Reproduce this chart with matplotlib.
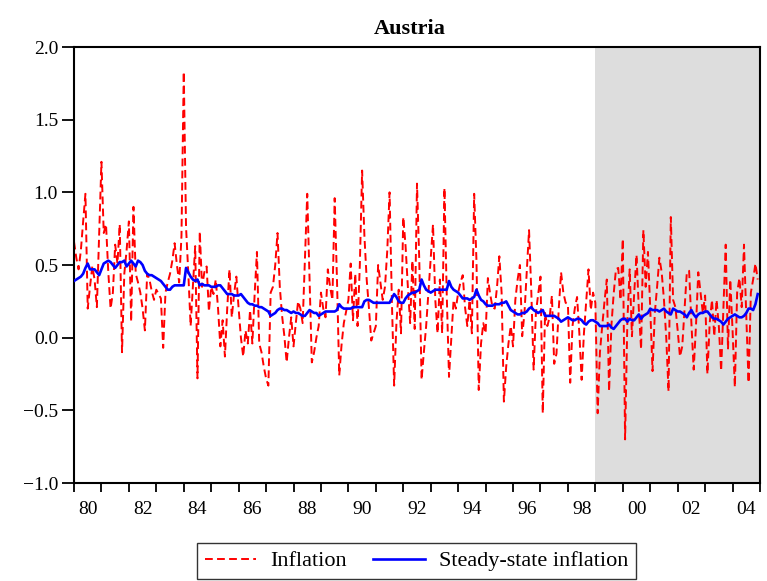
import matplotlib
matplotlib.use("Agg")
import matplotlib.pyplot as plt
import numpy as np
from matplotlib.ticker import FixedLocator, FixedFormatter

plt.rcParams['font.family'] = ['Liberation Serif', 'DejaVu Serif']
plt.rcParams['axes.unicode_minus'] = True

start_year = 1980
shade_start_year = 1999
title = "Austria"
labels = ["Inflation", "Steady-state inflation"]
year_labels = ["80", "82", "84", "86", "88", "90", "92", "94", "96", "98", "00", "02", "04"]
y_ticks = [-1.0, -0.5, 0.0, 0.5, 1.0, 1.5, 2.0]

inflation = [
    0.66, 0.55, 0.47, 0.60, 0.80, 0.99, 0.20, 0.35, 0.49, 0.40, 0.21, 0.70,   # 1980
    1.21, 0.72, 0.78, 0.45, 0.20, 0.31, 0.64, 0.51, 0.78, -0.10, 0.44, 0.60,  # 1981
    0.80, 0.11, 0.90, 0.44, 0.38, 0.31, 0.20, 0.05, 0.44, 0.40, 0.32, 0.26,   # 1982
    0.33, 0.30, 0.27, -0.07, 0.31, 0.38, 0.44, 0.53, 0.65, 0.50, 0.38, 0.70,  # 1983
    1.83, 0.76, 0.44, 0.08, 0.35, 0.63, -0.28, 0.73, 0.35, 0.45, 0.49, 0.18,  # 1984
    0.35, 0.30, 0.40, 0.20, -0.06, 0.12, -0.13, 0.20, 0.47, 0.14, 0.30, 0.42, # 1985
    0.20, 0.00, -0.13, 0.05, -0.04, 0.19, -0.04, 0.30, 0.59, -0.04, -0.10, -0.20,  # 1986
    -0.28, -0.33, 0.31, 0.35, 0.50, 0.72, 0.35, 0.15, 0.01, -0.17, 0.00, 0.14,    # 1987
    -0.06, 0.10, 0.25, 0.20, 0.10, 0.55, 0.99, 0.40, -0.17, -0.10, 0.00, 0.08,    # 1988
    0.31, 0.20, 0.14, 0.47, 0.35, 0.26, 0.96, 0.40, -0.26, -0.05, 0.10, 0.18,     # 1989
    0.26, 0.51, 0.12, 0.44, 0.08, 0.50, 1.15, 0.70, 0.40, 0.20, -0.02, 0.03,      # 1990
    0.08, 0.50, 0.38, 0.26, 0.35, 0.60, 1.00, 0.26, -0.33, 0.10, 0.33, 0.03,      # 1991
    0.83, 0.63, 0.35, 0.10, 0.53, 0.06, 1.06, 0.53, -0.29, -0.10, 0.08, 0.31,     # 1992
    0.55, 0.78, 0.26, 0.03, 0.40, 0.03, 1.03, 0.30, -0.27, 0.00, 0.26, 0.20,      # 1993
    0.31, 0.38, 0.43, 0.21, 0.08, 0.26, 0.03, 0.99, 0.53, -0.36, -0.04, 0.10,     # 1994
    0.03, 0.41, 0.30, 0.21, 0.20, 0.35, 0.56, 0.31, -0.44, -0.20, -0.04, 0.08,    # 1995
    -0.06, 0.26, 0.40, 0.50, 0.01, 0.17, 0.45, 0.74, 0.31, -0.22, 0.17, 0.30,     # 1996
    0.42, -0.52, 0.17, 0.08, 0.14, 0.29, -0.18, -0.11, 0.20, 0.45, 0.31, 0.24,    # 1997
    0.23, -0.31, 0.08, 0.20, 0.28, 0.03, -0.29, 0.03, 0.25, 0.47, 0.19, 0.31,     # 1998
    0.24, -0.52, -0.10, 0.08, 0.25, 0.40, -0.37, 0.08, 0.30, 0.47, 0.48, 0.26,    # 1999
    0.68, -0.70, 0.12, 0.47, 0.01, 0.31, 0.57, 0.20, -0.08, 0.74, 0.35, 0.59,     # 2000
    0.20, -0.23, 0.17, 0.35, 0.55, 0.45, 0.26, 0.00, -0.37, 0.83, 0.26, 0.21,     # 2001
    0.05, -0.13, -0.06, 0.20, 0.45, 0.46, 0.10, -0.22, 0.08, 0.45, 0.31, 0.17,    # 2002
    0.29, -0.25, 0.10, 0.26, 0.01, 0.26, 0.08, -0.23, 0.20, 0.64, -0.08, 0.40,    # 2003
    0.05, -0.34, 0.31, 0.41, 0.21, 0.64, 0.15, -0.31, 0.31, 0.40, 0.51, 0.40,     # 2004
]

steady_state = [
    0.39, 0.40, 0.41, 0.42, 0.44, 0.48, 0.51, 0.47, 0.47, 0.47, 0.45, 0.43,  # 1980
    0.47, 0.51, 0.52, 0.53, 0.52, 0.50, 0.48, 0.50, 0.52, 0.52, 0.53, 0.49,  # 1981
    0.51, 0.53, 0.51, 0.49, 0.53, 0.52, 0.50, 0.46, 0.44, 0.43, 0.43, 0.42,  # 1982
    0.41, 0.40, 0.39, 0.37, 0.35, 0.33, 0.33, 0.35, 0.36, 0.36, 0.36, 0.36,  # 1983
    0.36, 0.48, 0.45, 0.42, 0.40, 0.39, 0.40, 0.36, 0.37, 0.36, 0.36, 0.36,  # 1984
    0.35, 0.35, 0.35, 0.36, 0.36, 0.34, 0.32, 0.30, 0.30, 0.30, 0.29, 0.29,  # 1985
    0.29, 0.30, 0.28, 0.26, 0.24, 0.23, 0.23, 0.22, 0.22, 0.21, 0.21, 0.20,  # 1986
    0.19, 0.18, 0.15, 0.16, 0.17, 0.19, 0.20, 0.20, 0.19, 0.19, 0.18, 0.17,  # 1987
    0.18, 0.17, 0.17, 0.16, 0.15, 0.15, 0.17, 0.19, 0.18, 0.17, 0.17, 0.15,  # 1988
    0.16, 0.17, 0.18, 0.18, 0.18, 0.18, 0.18, 0.19, 0.23, 0.21, 0.20, 0.20,  # 1989
    0.20, 0.20, 0.21, 0.21, 0.21, 0.21, 0.21, 0.25, 0.26, 0.26, 0.25, 0.24,  # 1990
    0.24, 0.24, 0.24, 0.24, 0.24, 0.24, 0.24, 0.27, 0.30, 0.28, 0.25, 0.24,  # 1991
    0.24, 0.27, 0.29, 0.30, 0.31, 0.31, 0.32, 0.33, 0.40, 0.36, 0.33, 0.32,  # 1992
    0.31, 0.32, 0.33, 0.33, 0.33, 0.33, 0.33, 0.33, 0.39, 0.35, 0.33, 0.32,  # 1993
    0.31, 0.29, 0.27, 0.27, 0.27, 0.26, 0.27, 0.28, 0.33, 0.29, 0.26, 0.25,  # 1994
    0.23, 0.22, 0.22, 0.22, 0.23, 0.23, 0.23, 0.24, 0.24, 0.25, 0.22, 0.19,  # 1995
    0.18, 0.17, 0.16, 0.16, 0.17, 0.17, 0.18, 0.20, 0.21, 0.19, 0.18, 0.17,  # 1996
    0.18, 0.19, 0.15, 0.15, 0.15, 0.15, 0.15, 0.14, 0.13, 0.11, 0.12, 0.13,  # 1997
    0.14, 0.13, 0.12, 0.12, 0.13, 0.13, 0.12, 0.10, 0.09, 0.11, 0.12, 0.12,  # 1998
    0.11, 0.10, 0.08, 0.08, 0.08, 0.08, 0.09, 0.07, 0.06, 0.08, 0.10, 0.12,  # 1999
    0.13, 0.13, 0.11, 0.13, 0.12, 0.12, 0.14, 0.16, 0.13, 0.15, 0.16, 0.17,  # 2000
    0.20, 0.19, 0.19, 0.19, 0.18, 0.19, 0.20, 0.18, 0.17, 0.16, 0.20, 0.19,  # 2001
    0.18, 0.18, 0.17, 0.16, 0.14, 0.17, 0.19, 0.16, 0.14, 0.16, 0.17, 0.17,  # 2002
    0.18, 0.18, 0.16, 0.14, 0.13, 0.13, 0.12, 0.11, 0.09, 0.11, 0.13, 0.14,  # 2003
    0.15, 0.16, 0.15, 0.14, 0.14, 0.15, 0.17, 0.20, 0.20, 0.19, 0.23, 0.30,  # 2004
]

n = len(inflation)
dates = start_year + np.arange(n) / 12.0
end_year = start_year + n / 12.0

fig = plt.figure(figsize=(7.67, 5.81), dpi=100)
ax = fig.add_axes([74 / 767, 1 - 483 / 581, 686 / 767, 436 / 581])

ax.axvspan(shade_start_year, end_year, color="#dddddd", lw=0, zorder=0)
ax.plot(dates, inflation, color="#ff0000", lw=1.4, dashes=(4, 2.2), label=labels[0], zorder=2)
ax.plot(dates, steady_state, color="#0000ff", lw=1.9, label=labels[1], zorder=3)

ax.set_xlim(start_year, end_year)
ax.set_ylim(-1.0, 2.0)

# major ticks every year (no labels), labels centred in the labelled year
years = np.arange(start_year, int(end_year) + 1)
ax.xaxis.set_major_locator(FixedLocator(years))
ax.xaxis.set_major_formatter(FixedFormatter([""] * len(years)))
label_pos = [start_year + 2 * k + 0.5 for k in range(len(year_labels))]
ax.xaxis.set_minor_locator(FixedLocator(label_pos))
ax.xaxis.set_minor_formatter(FixedFormatter(year_labels))
ax.tick_params(axis="x", which="major", direction="out", length=6.5, width=1.3)
ax.tick_params(axis="x", which="minor", length=0, labelsize=14, pad=13)

ax.set_yticks(y_ticks)
ax.set_yticklabels([f"{v:.1f}".replace("-", "\u2212") for v in y_ticks])
ax.tick_params(axis="y", direction="out", length=8.5, width=1.3, labelsize=14, pad=3)

for sp in ax.spines.values():
    sp.set_linewidth(1.5)

fig.text(410 / 767, 1 - 29 / 581, title, fontsize=16, fontweight="bold",
         ha="center", va="center")

leg = fig.legend(loc="upper center", bbox_to_anchor=(416.5 / 767, 1 - 543 / 581),
                 ncol=2, fontsize=16, frameon=True, fancybox=False, edgecolor="black",
                 handlelength=2.3, handletextpad=0.65, columnspacing=1.2, borderpad=0.35,
                 borderaxespad=0)
leg.get_frame().set_linewidth(1.0)

fig.savefig("out.png", dpi=100)
